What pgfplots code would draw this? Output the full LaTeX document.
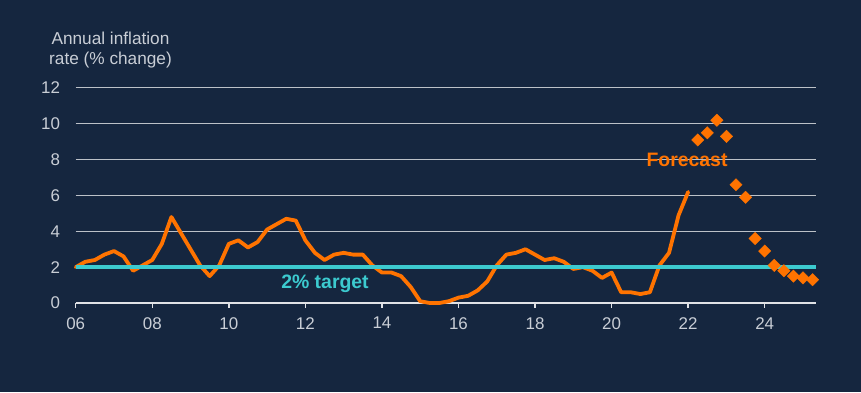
\documentclass[border=0pt]{standalone}
\usepackage{pgfplots}
\pgfplotsset{compat=1.18}
\usepackage{fontspec}
\setmainfont{Liberation Sans}
\definecolor{bg}{HTML}{15263F}
\definecolor{txtcol}{HTML}{C9CED6}
\definecolor{gridcol}{HTML}{BCC1C8}
\definecolor{axiscol}{HTML}{E0E2E6}
\definecolor{orangecol}{HTML}{FF7300}
\definecolor{cyancol}{HTML}{3CCACF}
\begin{document}
\begin{tikzpicture}[x=1bp,y=1bp]
\fill[bg] (0,0) rectangle (861,392);
\useasboundingbox (0,0) rectangle (861,392);
\begin{axis}[
  at={(75.7bp,89bp)}, anchor=south west,
  scale only axis, width=740.3bp, height=215bp,
  xmin=2006, xmax=2025.34, ymin=0, ymax=12,
  axis x line*=bottom, axis y line*=left,
  y axis line style={draw=none},
  x axis line style={draw=axiscol, line width=2bp, -},
  xtick={2006,2008,...,2024},
  xticklabels={06,08,10,12,14,16,18,20,22,24},
  ytick={0,2,...,12},
  xtick style={draw=axiscol, line width=1.5bp},
  xtick align=outside, major tick length=5bp,
  ytick style={draw=none},
  ymajorgrids, grid style={draw=gridcol, line width=1bp},
  tick label style={font=\fontsize{17}{20}\selectfont, text=txtcol},
  /pgf/number format/assume math mode=true,
  yticklabel style={anchor=east, inner sep=0pt, xshift=-15.5bp},
  xticklabel style={anchor=north, inner sep=0pt, yshift=-9bp},
  clip=false,
]
\addplot[orangecol, line width=3.8bp, line join=round, line cap=round] coordinates {
(2006.00,2.0)(2006.25,2.3)(2006.50,2.4)(2006.75,2.7)
(2007.00,2.9)(2007.25,2.6)(2007.50,1.8)(2007.75,2.1)
(2008.00,2.4)(2008.25,3.3)(2008.50,4.8)(2008.75,3.9)
(2009.00,3.0)(2009.25,2.1)(2009.50,1.5)(2009.75,2.1)
(2010.00,3.3)(2010.25,3.5)(2010.50,3.1)(2010.75,3.4)
(2011.00,4.1)(2011.25,4.4)(2011.50,4.7)(2011.75,4.6)
(2012.00,3.5)(2012.25,2.8)(2012.50,2.4)(2012.75,2.7)
(2013.00,2.8)(2013.25,2.7)(2013.50,2.7)(2013.75,2.1)
(2014.00,1.7)(2014.25,1.7)(2014.50,1.5)(2014.75,0.9)
(2015.00,0.1)(2015.25,0.0)(2015.50,0.0)(2015.75,0.1)
(2016.00,0.3)(2016.25,0.4)(2016.50,0.7)(2016.75,1.2)
(2017.00,2.1)(2017.25,2.7)(2017.50,2.8)(2017.75,3.0)
(2018.00,2.7)(2018.25,2.4)(2018.50,2.5)(2018.75,2.3)
(2019.00,1.9)(2019.25,2.0)(2019.50,1.8)(2019.75,1.4)
(2020.00,1.7)(2020.25,0.6)(2020.50,0.6)(2020.75,0.5)
(2021.00,0.6)(2021.25,2.1)(2021.50,2.8)(2021.75,4.9)
(2022.00,6.2)
};
\addplot[cyancol, line width=4.5bp] coordinates {(2006,2) (2025.34,2)};
\addplot[only marks, mark=square*, mark size=4.4bp, mark options={rotate=45, fill=orangecol, draw=orangecol, line width=0.3bp}] coordinates {
(2022.25,9.1)(2022.50,9.5)(2022.75,10.2)(2023.00,9.3)
(2023.25,6.6)(2023.50,5.9)(2023.75,3.6)(2024.00,2.9)
(2024.25,2.1)(2024.50,1.8)(2024.75,1.5)(2025.00,1.4)(2025.25,1.3)
};
\end{axis}
\node[align=center, anchor=north, inner sep=0pt, font=\fontsize{17.3}{20}\selectfont, text=txtcol] at (110.5,360.5) {Annual inflation\\rate (\% change)};
\node[font=\bfseries\fontsize{19.5}{22}\selectfont, text=cyancol] at (325,108) {2\% target};
\node[font=\bfseries\fontsize{19.5}{22}\selectfont, text=orangecol] at (687,232) {Forecast};
\end{tikzpicture}
\end{document}
